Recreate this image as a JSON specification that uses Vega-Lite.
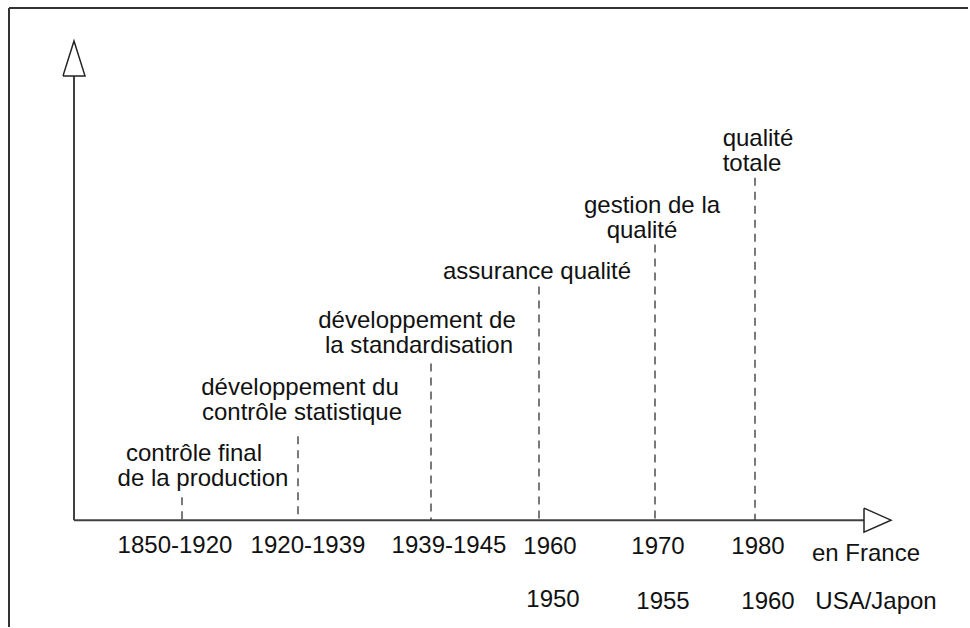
{
  "$schema": "https://vega.github.io/schema/vega-lite/v6.json",
  "width": 970,
  "height": 628,
  "padding": 0,
  "autosize": {"type": "fit", "contains": "padding"},
  "background": "white",
  "config": {"view": {"stroke": null}},
  "datasets": {
    "frame": [
      {"x": 9, "x2": 968, "y": 8, "y2": 8},
      {"x": 9, "x2": 9, "y": 8, "y2": 628}
    ],
    "axes": [
      {"axe": "qualité", "x": 74, "x2": 74, "y": 76, "y2": 521},
      {"axe": "temps", "x": 74, "x2": 864, "y": 521, "y2": 521}
    ],
    "arrows": [
      {"arrow": "y", "o": 1, "x": 63, "y": 76},
      {"arrow": "y", "o": 2, "x": 74, "y": 41},
      {"arrow": "y", "o": 3, "x": 85, "y": 76},
      {"arrow": "y", "o": 4, "x": 63, "y": 76},
      {"arrow": "x", "o": 1, "x": 864, "y": 509},
      {"arrow": "x", "o": 2, "x": 891, "y": 521},
      {"arrow": "x", "o": 3, "x": 864, "y": 533},
      {"arrow": "x", "o": 4, "x": 864, "y": 509}
    ],
    "stages": [
      {"period": "1850-1920", "x": 182, "top": 498, "base": 521},
      {"period": "1920-1939", "x": 298, "top": 437, "base": 521},
      {"period": "1939-1945", "x": 431, "top": 364, "base": 521},
      {"period": "1960", "x": 539, "top": 287, "base": 521},
      {"period": "1970", "x": 655, "top": 245, "base": 521},
      {"period": "1980", "x": 755, "top": 178, "base": 521}
    ],
    "labels": [
      {"text": "contrôle final", "x": 194, "y": 462},
      {"text": "de la production", "x": 203, "y": 487},
      {"text": "développement du", "x": 300, "y": 396},
      {"text": "contrôle statistique", "x": 302, "y": 421},
      {"text": "développement de", "x": 417, "y": 329},
      {"text": "la standardisation", "x": 419, "y": 354},
      {"text": "assurance qualité", "x": 537, "y": 279},
      {"text": "gestion de la", "x": 652, "y": 213},
      {"text": "qualité", "x": 642, "y": 238},
      {"text": "qualité", "x": 758, "y": 146},
      {"text": "totale", "x": 752, "y": 171},
      {"text": "1850-1920", "x": 175, "y": 554},
      {"text": "1920-1939", "x": 308, "y": 554},
      {"text": "1939-1945", "x": 449, "y": 554},
      {"text": "1960", "x": 550, "y": 555},
      {"text": "1970", "x": 658, "y": 555},
      {"text": "1980", "x": 758, "y": 555},
      {"text": "en France", "x": 866, "y": 562},
      {"text": "1950", "x": 553, "y": 608},
      {"text": "1955", "x": 663, "y": 610},
      {"text": "1960", "x": 768, "y": 610},
      {"text": "USA/Japon", "x": 876, "y": 610}
    ]
  },
  "layer": [
    {
      "data": {"name": "frame"},
      "mark": {"type": "rule", "color": "#333333", "strokeWidth": 2},
      "encoding": {
        "x": {"field": "x", "type": "quantitative", "scale": {"domain": [0, 970], "nice": false, "zero": false}, "axis": null},
        "x2": {"field": "x2"},
        "y": {"field": "y", "type": "quantitative", "scale": {"domain": [0, 628], "reverse": true, "nice": false, "zero": false}, "axis": null},
        "y2": {"field": "y2"}
      }
    },
    {
      "data": {"name": "axes"},
      "mark": {"type": "rule", "color": "#404040", "strokeWidth": 2},
      "encoding": {
        "x": {"field": "x", "type": "quantitative", "scale": {"domain": [0, 970], "nice": false, "zero": false}, "axis": null},
        "x2": {"field": "x2"},
        "y": {"field": "y", "type": "quantitative", "scale": {"domain": [0, 628], "reverse": true, "nice": false, "zero": false}, "axis": null},
        "y2": {"field": "y2"}
      }
    },
    {
      "data": {"name": "arrows"},
      "mark": {"type": "line", "color": "#222222", "strokeWidth": 1.5, "strokeJoin": "miter", "interpolate": "linear"},
      "encoding": {
        "x": {"field": "x", "type": "quantitative", "scale": {"domain": [0, 970], "nice": false, "zero": false}, "axis": null},
        "y": {"field": "y", "type": "quantitative", "scale": {"domain": [0, 628], "reverse": true, "nice": false, "zero": false}, "axis": null},
        "detail": {"field": "arrow", "type": "nominal"},
        "order": {"field": "o", "type": "quantitative"}
      }
    },
    {
      "data": {"name": "stages"},
      "mark": {"type": "rule", "color": "#333333", "strokeWidth": 1.3, "strokeDash": [8, 6]},
      "encoding": {
        "x": {"field": "x", "type": "quantitative", "scale": {"domain": [0, 970], "nice": false, "zero": false}, "axis": null},
        "y": {"field": "top", "type": "quantitative", "scale": {"domain": [0, 628], "reverse": true, "nice": false, "zero": false}, "axis": null},
        "y2": {"field": "base"}
      }
    },
    {
      "data": {"name": "labels"},
      "mark": {"type": "text", "font": "Liberation Sans", "fontSize": 24, "color": "#111111", "align": "center", "baseline": "alphabetic"},
      "encoding": {
        "x": {"field": "x", "type": "quantitative", "scale": {"domain": [0, 970], "nice": false, "zero": false}, "axis": null},
        "y": {"field": "y", "type": "quantitative", "scale": {"domain": [0, 628], "reverse": true, "nice": false, "zero": false}, "axis": null},
        "text": {"field": "text", "type": "nominal"}
      }
    }
  ]
}
